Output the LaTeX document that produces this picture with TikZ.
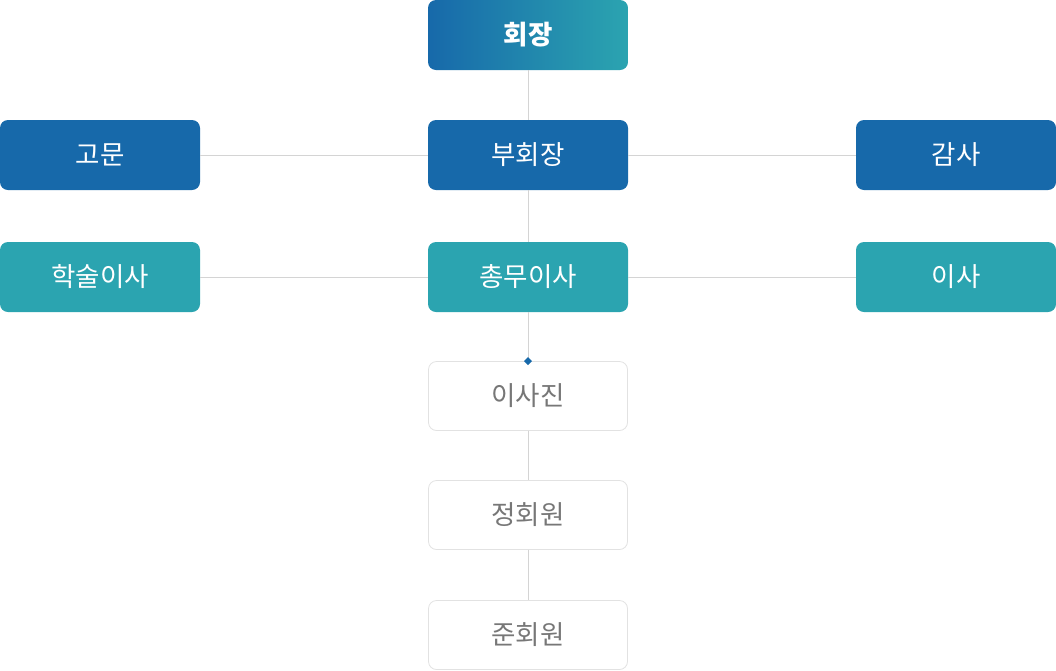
\documentclass[tikz,border=0pt]{standalone}
\usepackage{fontspec}
\setmainfont{Noto Sans CJK KR}
\usepackage{tikz}
\usetikzlibrary{shapes.geometric, positioning}
\definecolor{orgblue}{HTML}{1769AA}
\definecolor{orgteal}{HTML}{2BA4B0}
\definecolor{linegray}{HTML}{D4D4D4}
\definecolor{boxgray}{HTML}{E2E2E2}
\definecolor{textgray}{HTML}{777777}

\begin{document}
\begin{tikzpicture}[
    x=1pt, y=-1pt,
    box/.style={rectangle, rounded corners=8pt, minimum width=200pt, minimum height=70pt, inner sep=0pt, text=white, font=\fontsize{26.5}{30}\selectfont},
    bluebox/.style={box, fill=orgblue},
    tealbox/.style={box, fill=orgteal},
    chief/.style={box, left color=orgblue, right color=orgteal, font=\fontsize{26.5}{30}\selectfont\bfseries},
    lightbox/.style={box, draw=boxgray, line width=0.8pt, fill=white, text=textgray, minimum width=199pt, minimum height=69pt},
    conn/.style={draw=linegray, line width=1pt},
    marker/.style={diamond, fill=orgblue, inner sep=0pt, minimum size=8pt}
]
    \useasboundingbox (0, 0) rectangle (1056, 670);

    \node [chief] (president) at (528, 35) {회장};
    \node [bluebox] (vice) at (528, 155) {부회장};
    \node [bluebox] (advisor) at (100, 155) {고문};
    \node [bluebox] (auditor) at (956, 155) {감사};

    \node [tealbox] (secretary) at (528, 277) {총무이사};
    \node [tealbox] (academic) at (100, 277) {학술이사};
    \node [tealbox] (director) at (956, 277) {이사};

    \node [lightbox] (board) at (528, 396) {이사진};
    \node [lightbox] (regular) at (528, 515) {정회원};
    \node [lightbox] (associate) at (528, 635) {준회원};

    \draw [conn] (president) -- (vice);
    \draw [conn] (vice) -- (secretary);
    \draw [conn] (secretary) -- (board);
    \draw [conn] (board) -- (regular);
    \draw [conn] (regular) -- (associate);

    \draw [conn] (advisor) -- (vice);
    \draw [conn] (vice) -- (auditor);
    \draw [conn] (academic) -- (secretary);
    \draw [conn] (secretary) -- (director);

    \node [marker] (tip) at (board.north) {};

\end{tikzpicture}
\end{document}
